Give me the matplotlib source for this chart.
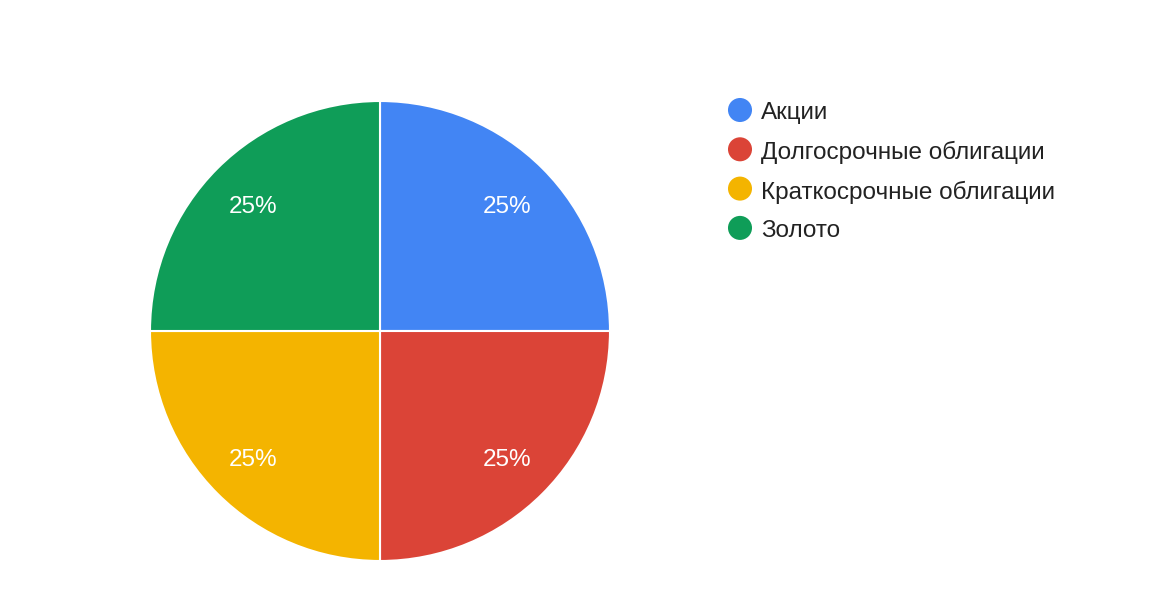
import matplotlib.pyplot as plt

# data
labels = ["Акции", "Долгосрочные облигации", "Краткосрочные облигации", "Золото"]
shares = [25, 25, 25, 25]
colors = ["#4285F4", "#DB4437", "#F4B400", "#0F9D58"]

plt.rcParams['font.family'] = ['Liberation Sans', 'DejaVu Sans']

W, H = 1150, 605
fig = plt.figure(figsize=(W / 100, H / 100), dpi=100)

# pie: center (380, 331), radius 230 px
cx, cy, r = 380, 331, 230
ax = fig.add_axes([(cx - r) / W, (H - cy - r) / H, 2 * r / W, 2 * r / H])
wedges, texts, autotexts = ax.pie(
    shares, colors=colors, startangle=90, counterclock=False,
    autopct='%1.0f%%', pctdistance=0.78, radius=1,
    wedgeprops=dict(edgecolor='white', linewidth=1.5),
    textprops=dict(color='white', fontsize=17.5))
for t in autotexts:
    t.set_va('center_baseline')
ax.set_xlim(-1, 1)
ax.set_ylim(-1, 1)
ax.set_aspect('equal')
ax.axis('off')

# legend drawn by hand in pixel coordinates
lg = fig.add_axes([0, 0, 1, 1])
lg.set_xlim(0, W)
lg.set_ylim(H, 0)
lg.axis('off')
y0, step = 110, 39.3
for i, (lab, col) in enumerate(zip(labels, colors)):
    y = y0 + i * step
    lg.scatter([740], [y], s=24 ** 2 * 0.52, color=col, edgecolors='none')
    lg.text(761, y + 1, lab, fontsize=17.5, color='#222222',
            va='center_baseline', ha='left')

fig.savefig('out.png', dpi=100, facecolor='white')
